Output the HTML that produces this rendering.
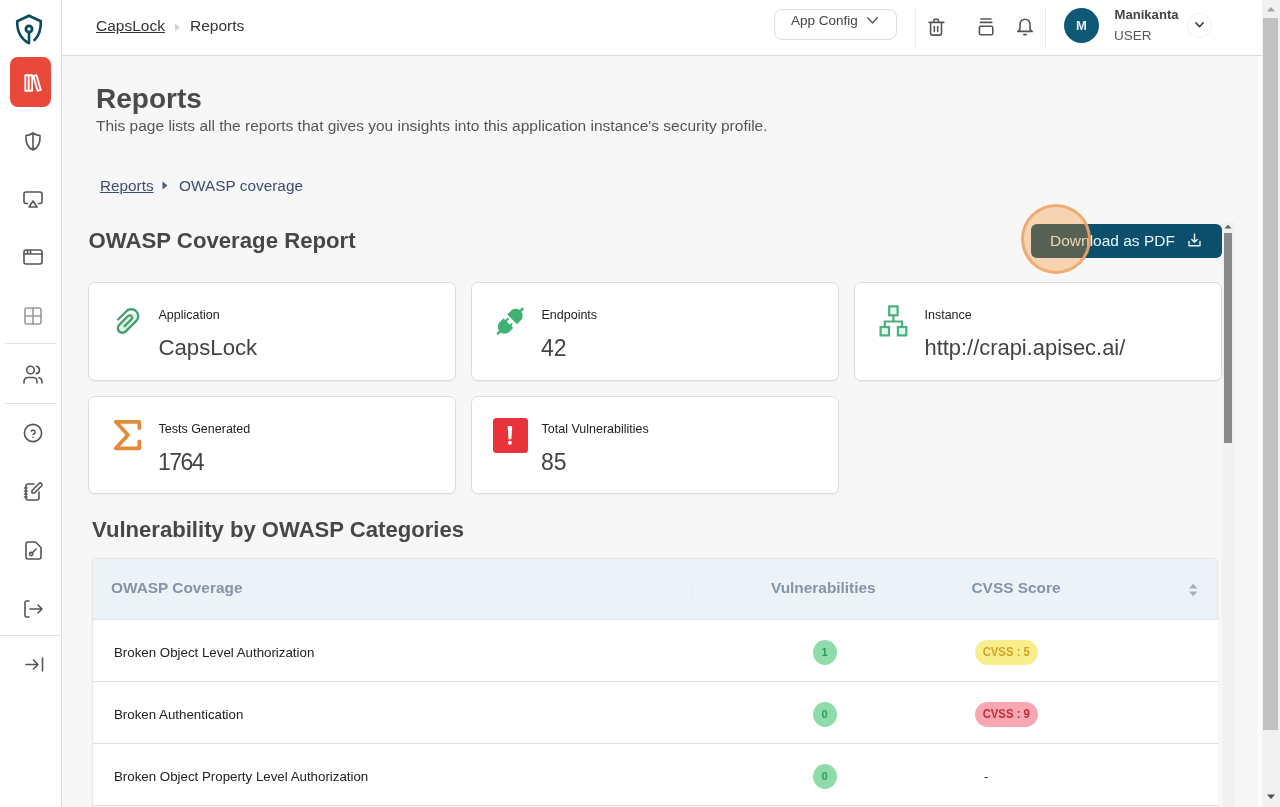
<!DOCTYPE html>
<html><head><meta charset="utf-8">
<style>
*{box-sizing:border-box;margin:0;padding:0}
html,body{width:1280px;height:807px;overflow:hidden;-webkit-font-smoothing:antialiased;background:#f7f7f7;font-family:"Liberation Sans",sans-serif;color:#333}
#sidebar{position:absolute;left:0;top:0;width:62px;height:807px;background:#fff;border-right:1px solid #dedede}
#header{position:absolute;left:62px;top:0;width:1200px;height:56px;background:#fff;border-bottom:1px solid #d9d9d9}
#vscroll{position:absolute;left:1262px;top:0;width:18px;height:807px;background:#f1f1f1}
.t{position:absolute;white-space:nowrap;line-height:1}
.card{position:absolute;background:#fff;border:1px solid #dcdcdc;border-radius:7px;box-shadow:0 1px 1px rgba(0,0,0,0.05)}
.lbl{position:absolute;font-size:12.5px;margin-top:1.5px;color:#222;white-space:nowrap;line-height:1}
.val{position:absolute;font-size:22.2px;margin-top:1px;color:#444;white-space:nowrap;line-height:1}
svg{position:absolute;overflow:visible}
.ic{fill:none;stroke:#555;stroke-width:1.6;stroke-linecap:round;stroke-linejoin:round}
.sep{position:absolute;height:1px;background:#e3e3e3}
.row{position:absolute;left:93px;width:1125px;height:62px;background:#fff;border-bottom:1px solid #dedede}
.rtxt{position:absolute;left:21px;top:26px;font-size:13.3px;color:#222;white-space:nowrap;line-height:1}
.dot{position:absolute;left:719.5px;top:20px;width:24px;height:25px;border-radius:50%;background:#8ddcaa;color:#2f9a5b;font-size:11px;font-weight:bold;text-align:center;line-height:25px}
.badge{position:absolute;left:882px;top:20px;width:63px;height:25px;border-radius:13px;font-size:12.6px;font-weight:bold;text-align:center;line-height:25px}
.badge span{display:inline-block;transform:scaleX(0.9)}
</style></head>
<body>
<div id="root" style="position:absolute;left:0;top:0;width:1280px;height:807px;will-change:transform">
<div id="sidebar">
  <!-- logo -->
  <svg style="left:15px;top:14px" width="28" height="31" viewBox="0 0 28 31">
    <path d="M14 1.8 L25.8 7.2 C26 15 24.5 21 19.5 26" fill="none" stroke="#0c4a62" stroke-width="2.6" stroke-linecap="round"/>
    <path d="M14 1.8 L2.2 7.2 C2 17 6 25 14 29.2 L14 19" fill="none" stroke="#0c4a62" stroke-width="2.6" stroke-linecap="round" stroke-linejoin="round"/>
    <circle cx="14" cy="15" r="3.1" fill="none" stroke="#0c4a62" stroke-width="2.8"/>
  </svg>
  <div style="position:absolute;left:10px;top:57px;width:41px;height:50px;border-radius:8px;background:#e9493b"></div>
  <svg style="left:24px;top:74px" width="18" height="18" viewBox="0 0 18 18">
    <path d="M1.3 1.3h3.4v15.4h-3.4z M4.7 1.3h3.4v15.4h-3.4z" fill="none" stroke="#fff" stroke-width="1.9" stroke-linejoin="round"/>
    <path d="M9.3 2.1 L12.5 1.2 L16.8 15.9 L13.6 16.8 Z" fill="none" stroke="#fff" stroke-width="1.9" stroke-linejoin="round"/>
  </svg>
  <!-- shield half -->
  <svg style="left:25px;top:132px" width="16" height="19" viewBox="0 0 16 19" class="ic">
    <path d="M8 1 C10.5 2.8 12.5 3.5 15 3.5 C15.5 11 13 16 8 18 C3 16 0.5 11 1 3.5 C3.5 3.5 5.5 2.8 8 1 Z M8 1 V18" />
  </svg>
  <!-- airplay -->
  <svg style="left:23px;top:191px" width="20" height="17" viewBox="0 0 20 17" class="ic">
    <path d="M4.5 12.5 H3 a2 2 0 0 1 -2 -2 V3 a2 2 0 0 1 2 -2 H17 a2 2 0 0 1 2 2 V10.5 a2 2 0 0 1 -2 2 H15.5"/>
    <path d="M10 10 L14 16 H6 Z"/>
  </svg>
  <!-- browser -->
  <svg style="left:23px;top:249px" width="20" height="16" viewBox="0 0 20 16" class="ic">
    <rect x="1" y="1" width="18" height="14" rx="2"/>
    <path d="M1 5 H19 M4.5 1.5 V5 M7.5 1.5 V5"/>
  </svg>
  <!-- grid -->
  <svg style="left:24px;top:307px" width="18" height="18" viewBox="0 0 18 18" class="ic" style="stroke:#999">
    <rect x="1" y="1" width="16" height="16" rx="2" style="stroke:#9a9a9a"/>
    <path d="M9 1 V17 M1 9 H17" style="stroke:#9a9a9a"/>
  </svg>
  <div class="sep" style="left:5px;top:343px;width:51px"></div>
  <!-- users -->
  <svg style="left:23px;top:365px" width="20" height="19" viewBox="0 0 20 19" class="ic">
    <circle cx="7.5" cy="5" r="3.8"/>
    <path d="M1 18 V16.5 a4 4 0 0 1 4 -4 H10 a4 4 0 0 1 4 4 V18"/>
    <path d="M13.5 1.2 a3.8 3.8 0 0 1 0 7.4"/>
    <path d="M19 18 V16.5 a4 4 0 0 0 -3 -3.8"/>
  </svg>
  <div class="sep" style="left:5px;top:403px;width:51px"></div>
  <!-- help -->
  <svg style="left:23px;top:423px" width="20" height="20" viewBox="0 0 20 20" class="ic">
    <circle cx="10" cy="10" r="8.6"/>
    <path d="M10 14.2 V14.3"/>
    <path d="M10 11.3 a2.1 2.1 0 0 0 1 -3.9 a2.1 2.1 0 0 0 -2.6 .5"/>
  </svg>
  <!-- notebook edit -->
  <svg style="left:23px;top:481px" width="20" height="20" viewBox="0 0 20 20" class="ic">
    <path d="M11 3 H5 a2 2 0 0 0 -2 2 V17 a2 2 0 0 0 2 2 H14 a2 2 0 0 0 2 -2 V11"/>
    <path d="M1.5 7 H4 M1.5 10 H4 M1.5 13 H4 M1.5 16 H4"/>
    <path d="M9 12 V9.5 L16 2.5 a1.7 1.7 0 0 1 2.5 2.5 L11.5 12 Z"/>
  </svg>
  <!-- file key -->
  <svg style="left:25px;top:541px" width="17" height="19" viewBox="0 0 17 19" class="ic">
    <path d="M10.5 1 H3 a2 2 0 0 0 -2 2 V16 a2 2 0 0 0 2 2 H14 a2 2 0 0 0 2 -2 V6.5 Z"/>
    <circle cx="6.2" cy="13" r="1.6"/>
    <path d="M7.4 11.8 L11.2 8"/>
  </svg>
  <!-- logout -->
  <svg style="left:24px;top:600px" width="19" height="18" viewBox="0 0 19 18" class="ic">
    <path d="M5 1 H2.5 a1.5 1.5 0 0 0 -1.5 1.5 V15.5 a1.5 1.5 0 0 0 1.5 1.5 H5"/>
    <path d="M6 9 H18 M14 5 L18 9 L14 13"/>
  </svg>
  <div class="sep" style="left:0px;top:635px;width:61px"></div>
  <!-- expand -->
  <svg style="left:25px;top:657px" width="19" height="15" viewBox="0 0 19 15" class="ic">
    <path d="M1 7.5 H13 M8.5 3 L13 7.5 L8.5 12 M17.5 1 V14"/>
  </svg>
</div>

<div id="header">
  <div class="t" style="left:34px;top:18.3px;font-size:15.5px;color:#333;text-decoration:underline">CapsLock</div>
  <svg style="left:112px;top:23px" width="7" height="9" viewBox="0 0 7 9"><path d="M1 0.5 L6 4.5 L1 8.5 Z" fill="#d5d5d5"/></svg>
  <div class="t" style="left:128px;top:18.3px;font-size:15.5px;color:#333">Reports</div>

  <div style="position:absolute;left:712px;top:9px;width:123px;height:31px;border:1px solid #ddd;border-radius:8px"></div>
  <div class="t" style="left:729px;top:13.7px;font-size:13.5px;color:#444">App Config</div>
  <svg style="left:805px;top:16.5px" width="11" height="7" viewBox="0 0 11 7"><path d="M0.8 0.8 L5.5 6 L10.2 0.8" fill="none" stroke="#555" stroke-width="1.4" stroke-linecap="round" stroke-linejoin="round"/></svg>
  <div style="position:absolute;left:853px;top:8px;width:1px;height:40px;background:#ececec"></div>
  <!-- trash -->
  <svg style="left:866px;top:18px" width="18" height="19" viewBox="0 0 18 19" class="ic">
    <path d="M1.2 4.4 H15.8 M6.3 8.6 V13.4 M9.7 8.6 V13.4 M2.6 4.4 V15.6 a1.5 1.5 0 0 0 1.5 1.5 H12 a1.5 1.5 0 0 0 1.5 -1.5 V4.4 M5.8 4.4 V2.2 a1 1 0 0 1 1 -1 H9.4 a1 1 0 0 1 1 1 V4.4"/>
  </svg>
  <!-- stack -->
  <svg style="left:915px;top:17px" width="18" height="20" viewBox="0 0 18 20" class="ic">
    <rect x="2.4" y="9.2" width="13.4" height="8.6" rx="1.6"/>
    <path d="M3.4 5.4 H14.8 M4 2 H14"/>
  </svg>
  <!-- bell -->
  <svg style="left:954px;top:18px" width="18" height="19" viewBox="0 0 18 19" class="ic">
    <path d="M9 1.2 a5 5 0 0 1 5 5 V9.8 a3.6 3.6 0 0 0 2.3 3.6 H1.7 a3.6 3.6 0 0 0 2.3 -3.6 V6.2 a5 5 0 0 1 5 -5 Z"/>
    <path d="M7.8 16.6 H10.2"/>
  </svg>
  <div style="position:absolute;left:983px;top:8px;width:1px;height:40px;background:#ececec"></div>
  <div style="position:absolute;left:1002px;top:8px;width:35px;height:35px;border-radius:50%;background:#0f5876"></div>
  <div class="t" style="left:1002px;top:18.5px;width:35px;text-align:center;font-size:13px;font-weight:bold;color:#e3f3f8">M</div>
  <div class="t" style="left:1052.5px;top:8.2px;font-size:13.1px;font-weight:bold;color:#444">Manikanta</div>
  <div class="t" style="left:1052px;top:29px;font-size:13.5px;color:#555">USER</div>
  <div style="position:absolute;left:1125px;top:13px;width:25px;height:25px;border-radius:50%;border:1px solid #eee"></div>
  <svg style="left:1133px;top:22px" width="9" height="6" viewBox="0 0 9 6"><path d="M0.8 0.8 L4.5 4.8 L8.2 0.8" fill="none" stroke="#333" stroke-width="1.5" stroke-linecap="round" stroke-linejoin="round"/></svg>
</div>

<div id="vscroll">
  <svg style="left:4px;top:6px" width="10" height="6" viewBox="0 0 10 6"><path d="M1 5.5 L5 1 L9 5.5 Z" fill="#a3a3a3"/></svg>
  <div style="position:absolute;left:1px;top:18px;width:15px;height:712px;background:#c1c1c1"></div>
  <svg style="left:4px;top:793.5px" width="10" height="6" viewBox="0 0 10 6"><path d="M1 0.5 L5 5 L9 0.5 Z" fill="#505050"/></svg>
</div>

<!-- main -->
<div class="t" style="left:96px;top:84.5px;font-size:28px;font-weight:bold;color:#4a4a4a">Reports</div>
<div class="t" style="left:96px;top:118px;font-size:15.5px;color:#555">This page lists all the reports that gives you insights into this application instance's security profile.</div>
<div class="t" style="left:100px;top:177.5px;font-size:15.3px;color:#3e4c6d;text-decoration:underline">Reports</div>
<svg style="left:162px;top:181px" width="6" height="9" viewBox="0 0 6 9"><path d="M0.5 0.5 L5.5 4.5 L0.5 8.5 Z" fill="#4d5a8a"/></svg>
<div class="t" style="left:179px;top:177.5px;font-size:15.4px;color:#3e4c6d">OWASP coverage</div>
<div class="t" style="left:88.5px;top:229.5px;font-size:22.2px;font-weight:bold;color:#474747">OWASP Coverage Report</div>

<!-- download button -->
<div style="position:absolute;left:1031px;top:224px;width:191px;height:34px;border-radius:6px;background:#0c4f6d"></div>
<div class="t" style="left:1050px;top:232.5px;font-size:15.5px;color:#e6f6fb">Download as PDF</div>
<svg style="left:1188px;top:233px" width="13" height="14" viewBox="0 0 13 14"><path d="M1 8.5 V12.8 H12 V8.5 M6.5 1 V9 M3.8 6.5 L6.5 9.2 L9.2 6.5" fill="none" stroke="#e6f6fb" stroke-width="1.4" stroke-linecap="round" stroke-linejoin="round"/></svg>
<div style="position:absolute;left:1021px;top:204px;width:70px;height:70px;border-radius:50%;background:rgba(250,140,30,0.32);border:3px solid rgba(240,165,105,0.9)"></div>

<!-- inner scrollbar -->
<div style="position:absolute;left:1222px;top:222px;width:13px;height:585px;background:#f1f1f1"></div>
<div style="position:absolute;left:1258px;top:56px;width:4px;height:751px;background:#fbfbfb"></div>
<svg style="left:1224px;top:224px" width="8" height="5" viewBox="0 0 8 5"><path d="M0.5 4.5 L4 0.8 L7.5 4.5 Z" fill="#606060"/></svg>
<div style="position:absolute;left:1223.5px;top:233px;width:8.5px;height:210px;background:#8a8a8a"></div>

<!-- cards -->
<div class="card" style="left:88px;top:282px;width:368px;height:99px"></div>
<div class="card" style="left:471px;top:282px;width:368px;height:99px"></div>
<div class="card" style="left:854px;top:282px;width:368px;height:99px"></div>
<div class="card" style="left:88px;top:396px;width:368px;height:98px"></div>
<div class="card" style="left:471px;top:396px;width:368px;height:98px"></div>

<!-- paperclip -->
<svg style="left:112.5px;top:305.6px" width="30" height="30" viewBox="64 64 896 896">
  <path d="M330 760 L640 420" stroke="#d9f6e6" stroke-width="300" stroke-linecap="round"/>
  <path fill="#4a9e72" d="M779.3 196.6c-94.2-94.2-247.6-94.2-341.7 0l-261 260.8c-1.7 1.7-2.6 4-2.6 6.4s.9 4.7 2.6 6.4l36.9 36.9a9 9 0 0012.7 0l261-260.8c32.4-32.4 75.5-50.2 121.3-50.2s88.9 17.8 121.2 50.2c32.4 32.4 50.2 75.5 50.2 121.2 0 45.8-17.8 88.8-50.2 121.2l-266 265.9-43.1 43.1c-40.3 40.3-105.8 40.3-146.1 0-19.5-19.5-30.2-45.4-30.2-73s10.7-53.5 30.2-73l263.9-263.8c6.7-6.6 15.5-10.3 24.9-10.3h.1c9.4 0 18.1 3.7 24.7 10.3 6.7 6.7 10.3 15.5 10.3 24.9 0 9.300-3.7 18.1-10.3 24.7L372.4 653c-1.7 1.7-2.6 4-2.6 6.4s.9 4.7 2.6 6.4l36.9 36.9a9 9 0 0012.7 0l215.6-215.6c19.9-19.9 30.8-46.3 30.8-74.4s-11-54.6-30.8-74.4c-41.1-41.1-107.9-41-149 0L463 364 224.8 602.1A172.22 172.22 0 00174 724.8c0 46.3 18.1 89.8 50.8 122.5 33.9 33.8 78.3 50.7 122.7 50.7 44.4 0 88.8-16.9 122.6-50.7l309.2-309C824.8 492.7 850 432 850 367.5c.1-64.6-25.1-125.3-70.7-170.9z"/>
</svg>
<!-- plug -->
<svg style="left:495px;top:306px" width="30.5" height="30.5" viewBox="64 64 896 896">
  <path fill="#3fb171" d="M917.7 148.8l-42.4-42.4c-1.6-1.6-3.6-2.3-5.7-2.3s-4.1.8-5.7 2.3l-76.1 76.1a199.27 199.27 0 00-112.1-34.3c-51.2 0-102.4 19.5-141.5 58.6L432.3 308.7a8.03 8.03 0 000 11.3L704 591.7c1.6 1.6 3.6 2.3 5.700 2.3 2 0 4.1-.8 5.7-2.3l101.9-101.9c68.9-69 77-175.7 24.3-253.5l76.1-76.1c3.1-3.2 3.1-8.3 0-11.4zM578.9 546.7a8.03 8.03 0 00-11.3 0L501 613.3 410.7 523l66.7-66.7c3.1-3.1 3.1-8.2 0-11.3L441 408.6a8.03 8.03 0 00-11.3 0L363 475.3l-43-43a7.85 7.85 0 00-5.7-2.3c-2 0-4.1.8-5.7 2.3L206.8 534.2c-68.9 68.9-77 175.7-24.3 253.5l-76.1 76.1a8.03 8.03 0 000 11.3l42.4 42.4c1.6 1.6 3.6 2.3 5.7 2.3s4.1-.8 5.7-2.3l76.1-76.1c33.7 22.9 72.9 34.3 112.1 34.3 51.2 0 102.4-19.5 141.5-58.6l101.9-101.9c3.1-3.1 3.1-8.2 0-11.3l-36.6-36.2z"/>
</svg>
<!-- sitemap -->
<svg style="left:870px;top:298px" width="45" height="45" viewBox="870 298 45 45" fill="#e3f8ee" stroke="#4caf7d" stroke-width="2.2">
  <rect x="889.2" y="306.4" width="8.4" height="8.9"/>
  <rect x="880.6" y="327" width="8.4" height="8.4"/>
  <rect x="897.9" y="327" width="8.4" height="8.4"/>
  <path d="M893.4 315.3 V321.5 M884.8 327 V321.5 H902.1 V327" fill="none"/>
</svg>
<!-- sigma -->
<svg style="left:105px;top:410px" width="50" height="50" viewBox="105 410 50 50">
  <path d="M139.3 428 V421.8 H115.8 L128 435 L115.8 448.3 H139.3 V441.5" fill="none" stroke="#e38a3b" stroke-width="3.8" stroke-linejoin="round" stroke-linecap="round"/>
</svg>
<!-- exclamation -->
<div style="position:absolute;left:493px;top:418px;width:34.5px;height:34.5px;border-radius:3.5px;background:#e8333a"></div>
<svg style="left:486px;top:410px" width="50" height="50" viewBox="486 410 50 50">
  <path d="M507.6 426 H512.2 L511.4 439.2 H508.4 Z" fill="#fff"/>
  <circle cx="509.9" cy="442.7" r="2" fill="#fff"/>
</svg>

<div class="lbl" style="left:158.5px;top:307px">Application</div>
<div class="val" style="left:158.5px;top:336px">CapsLock</div>
<div class="lbl" style="left:541.5px;top:307px">Endpoints</div>
<div class="val" style="left:541px;top:335.5px;font-size:23px">42</div>
<div class="lbl" style="left:924.5px;top:307px">Instance</div>
<div class="val" style="left:924.5px;top:336px;font-size:21.9px">http://crapi.apisec.ai/</div>
<div class="lbl" style="left:158.5px;top:421px">Tests Generated</div>
<div class="val" style="left:158px;top:449.5px;font-size:23px;letter-spacing:-1.5px">1764</div>
<div class="lbl" style="left:541.5px;top:421px">Total Vulnerabilities</div>
<div class="val" style="left:541px;top:449.5px;font-size:23px">85</div>

<div class="t" style="left:92px;top:518.5px;font-size:22.1px;font-weight:bold;color:#474747">Vulnerability by OWASP Categories</div>

<!-- table -->
<div style="position:absolute;left:92px;top:558px;width:1126px;height:249px;border:1px solid #e6e6e6;border-bottom:none;border-radius:5px 5px 0 0;box-shadow:0 0 2px rgba(0,0,0,0.06);background:#fff;overflow:hidden">
  <div style="position:absolute;left:0;top:0;width:1126px;height:61px;background:#edf2f9;border-bottom:1px solid #e0e4e8"></div>
</div>
<div class="t" style="left:111px;top:580px;font-size:15.4px;font-weight:bold;color:#8493a6">OWASP Coverage</div>
<div style="position:absolute;left:692px;top:578px;width:1px;height:22px;background:#e9eef5"></div>
<div class="t" style="left:771px;top:580px;font-size:15.4px;font-weight:bold;color:#8493a6">Vulnerabilities</div>
<div style="position:absolute;left:953px;top:578px;width:1px;height:22px;background:#e9eef5"></div>
<div class="t" style="left:971.5px;top:580px;font-size:15.4px;font-weight:bold;color:#8493a6">CVSS Score</div>
<svg style="left:1188px;top:581.5px" width="10.5" height="16" viewBox="0 0 10 15"><path d="M1 6 L5 1.5 L9 6 Z M1 9 L5 13.5 L9 9 Z" fill="#a9afb8"/></svg>

<div class="row" style="top:620px">
  <div class="rtxt">Broken Object Level Authorization</div>
  <div class="dot">1</div>
  <div class="badge" style="background:#f8ef8c;color:#d2a226"><span>CVSS : 5</span></div>
</div>
<div class="row" style="top:682px">
  <div class="rtxt">Broken Authentication</div>
  <div class="dot">0</div>
  <div class="badge" style="background:#f7a8b0;color:#c72a3d"><span>CVSS : 9</span></div>
</div>
<div class="row" style="top:744px">
  <div class="rtxt">Broken Object Property Level Authorization</div>
  <div class="dot">0</div>
  <div class="t" style="left:891px;top:27px;font-size:12px;color:#222">-</div>
</div>
</div>
</body></html>
